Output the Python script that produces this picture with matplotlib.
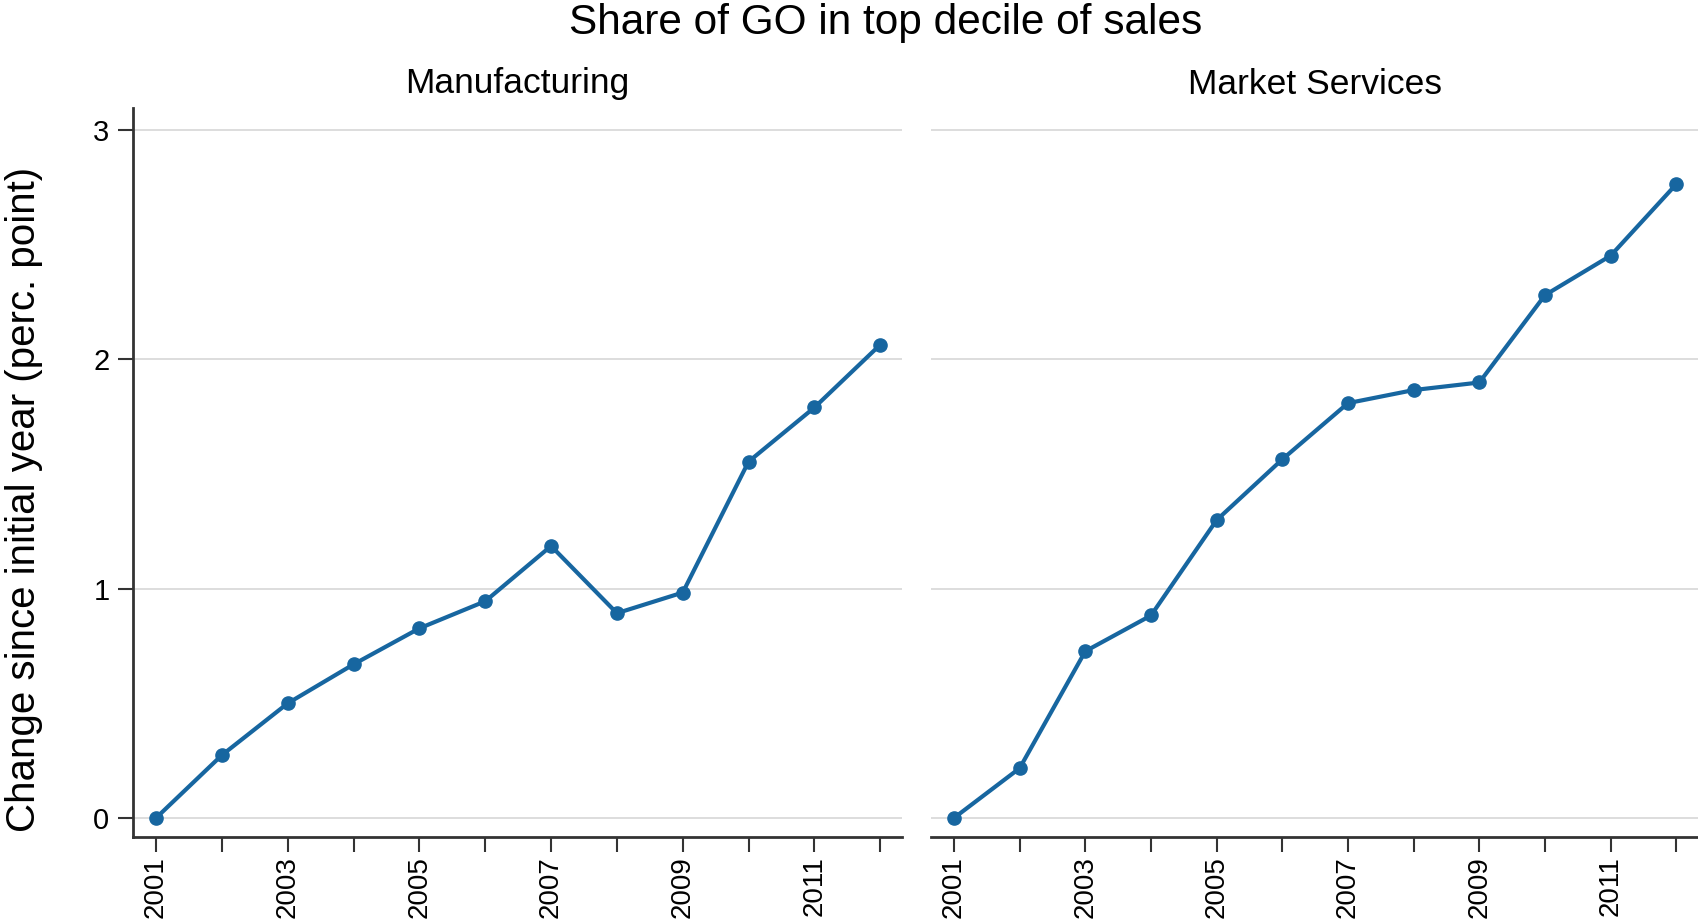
import matplotlib.pyplot as plt

plt.rcParams['font.family'] = ['Liberation Sans', 'DejaVu Sans']

years = list(range(2001, 2013))
manufacturing = [0.0, 0.274, 0.50, 0.67, 0.827, 0.945, 1.186, 0.893, 0.983, 1.554, 1.79, 2.064]
market_services = [0.0, 0.217, 0.727, 0.883, 1.299, 1.564, 1.809, 1.866, 1.899, 2.28, 2.452, 2.764]
panel_titles = ['Manufacturing', 'Market Services']
yticks = [0, 1, 2, 3]

color = '#1766a0'
W, H = 1698, 923
fig = plt.figure(figsize=(W / 100, H / 100), dpi=100)

boxes = [(133, 902), (931, 1698)]
top, bottom = 108, 837
series = [manufacturing, market_services]

for i, (x0, x1) in enumerate(boxes):
    ax = fig.add_axes([x0 / W, 1 - bottom / H, (x1 - x0) / W, (bottom - top) / H])
    ax.plot(years, series[i], color=color, lw=3, marker='o', ms=9.5, zorder=3)
    ax.set_xlim(2000.65, 2012.33)
    ax.set_ylim(-0.083, 3.096)
    ax.set_yticks(yticks)
    ax.grid(axis='y', color='#dddddd', lw=1.4)
    ax.set_axisbelow(True)
    ax.set_xticks(years)
    ax.set_xticklabels([str(y) if y % 2 == 1 else '' for y in years], rotation=90, fontsize=20)
    ax.tick_params(axis='x', length=11, width=1.5, color='#333333', pad=3)
    for s in ['top', 'right']:
        ax.spines[s].set_visible(False)
    ax.spines['bottom'].set_linewidth(2)
    ax.spines['bottom'].set_color('#333333')
    if i == 0:
        ax.spines['left'].set_linewidth(2)
        ax.spines['left'].set_color('#333333')
        ax.tick_params(axis='y', length=11, width=1.5, color='#333333', labelsize=21, pad=6)
    else:
        ax.spines['left'].set_visible(False)
        ax.tick_params(axis='y', left=False, labelleft=False)
    fig.text((x0 + x1) / 2 / W, 1 - 84 / H, panel_titles[i], ha='center', va='center', fontsize=25.5)

fig.text(886 / W, 1 - 23 / H, 'Share of GO in top decile of sales', ha='center', va='center', fontsize=30.5)
fig.text(24 / W, 1 - 499 / H, 'Change since initial year (perc. point)', ha='center', va='center',
         rotation=90, fontsize=29)

fig.savefig('out.png', dpi=100)
